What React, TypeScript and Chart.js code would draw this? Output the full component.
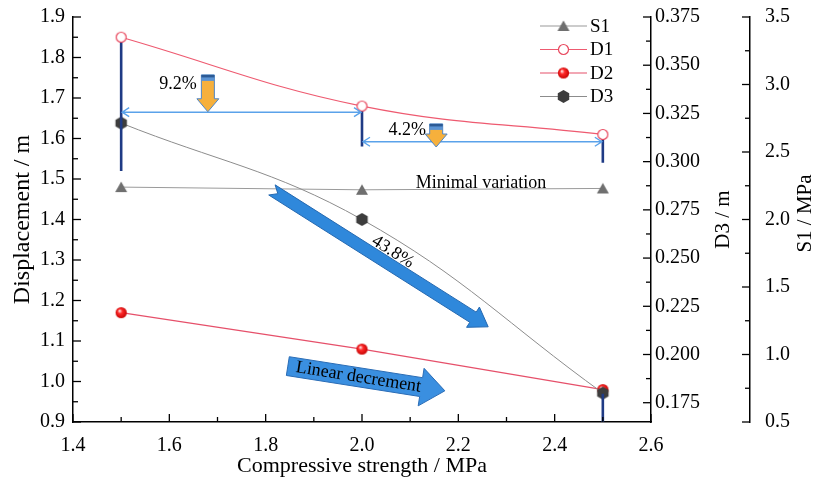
import React, { useEffect, useRef } from 'react';
import { Chart, registerables } from 'chart.js';
Chart.register(...registerables);

// ---- data ----
const STRENGTH = [1.5, 2.0, 2.5];
const S1 = [2.24, 2.22, 2.23];
const D1 = [1.85, 1.68, 1.61];
const D2 = [1.17, 1.08, 0.98];
const D3 = [0.32, 0.27, 0.18];

const X_TICKS = [1.4, 1.6, 1.8, 2.0, 2.2, 2.4, 2.6];
const Y_TICKS = [0.9, 1.0, 1.1, 1.2, 1.3, 1.4, 1.5, 1.6, 1.7, 1.8, 1.9];
const D3_TICKS = [0.175, 0.2, 0.225, 0.25, 0.275, 0.3, 0.325, 0.35, 0.375];
const S1_TICKS = [0.5, 1.0, 1.5, 2.0, 2.5, 3.0, 3.5];

// vertical bars (left axis units)
const BAR_X = [1.5, 2.0, 2.5, 2.5];
const BAR_HIGH = [1.85, 1.68, 1.61, 0.97];
const BAR_LOW = [1.52, 1.58, 1.54, 0.9];

// horizontal double arrows
const SPAN_FROM = [1.5, 2.0];
const SPAN_TO = [2.0, 2.5];
const SPAN_Y = [1.665, 1.592];

// drop arrows with percentages
const DROP_LABELS = ['9.2%', '4.2%'];
const DROP_X = [1.68, 2.154];
const DROP_TOP = [1.757, 1.636];
const DROP_TIP = [1.666, 1.579];
const DROP_LABEL_X = [1.657, 2.133];
const DROP_LABEL_Y = [1.735, 1.621];

const FONT = "'Liberation Serif', 'Times New Roman', serif";
Chart.defaults.font.family = FONT;

function makeCanvas(size: number) {
  const c = document.createElement('canvas');
  c.width = size;
  c.height = size;
  return c;
}

function makeMarkers() {
  const tri = makeCanvas(14);
  {
    const g = tri.getContext('2d')!;
    g.fillStyle = '#6f6f6f';
    g.beginPath();
    g.moveTo(7, 1.5);
    g.lineTo(13, 12);
    g.lineTo(1, 12);
    g.closePath();
    g.fill();
  }
  const open = makeCanvas(13);
  {
    const g = open.getContext('2d')!;
    g.fillStyle = '#fff';
    g.strokeStyle = '#e8485e';
    g.lineWidth = 1.2;
    g.beginPath();
    g.arc(6.5, 6.5, 5, 0, Math.PI * 2);
    g.fill();
    g.stroke();
  }
  const sphere = makeCanvas(13);
  {
    const g = sphere.getContext('2d')!;
    const gr = g.createRadialGradient(4.8, 4.6, 0.4, 6.5, 6.5, 6);
    gr.addColorStop(0, '#ffe0e0');
    gr.addColorStop(0.35, '#ff2a2a');
    gr.addColorStop(1, '#c20000');
    g.fillStyle = gr;
    g.beginPath();
    g.arc(6.5, 6.5, 5.6, 0, Math.PI * 2);
    g.fill();
  }
  const hex = makeCanvas(15);
  {
    const g = hex.getContext('2d')!;
    g.fillStyle = '#3d3d3d';
    g.beginPath();
    for (let k = 0; k < 6; k++) {
      const a = -Math.PI / 2 + (k * Math.PI) / 3;
      const px = 7.5 + 6.6 * Math.cos(a);
      const py = 7.5 + 6.6 * Math.sin(a);
      if (k === 0) g.moveTo(px, py);
      else g.lineTo(px, py);
    }
    g.closePath();
    g.fill();
  }
  return { tri, open, sphere, hex };
}

function blockArrow(
  ctx: CanvasRenderingContext2D,
  x0: number, y0: number, x1: number, y1: number,
  sh: number, hh: number, hl: number, notch: number,
  fill: string, stroke: string
) {
  const L = Math.hypot(x1 - x0, y1 - y0);
  const ux = (x1 - x0) / L, uy = (y1 - y0) / L;
  const nx = -uy, ny = ux;
  const bx = x1 - ux * hl, by = y1 - uy * hl;
  ctx.beginPath();
  ctx.moveTo(x0 + nx * sh, y0 + ny * sh);
  ctx.lineTo(bx + nx * sh, by + ny * sh);
  ctx.lineTo(bx + nx * hh, by + ny * hh);
  ctx.lineTo(x1, y1);
  ctx.lineTo(bx - nx * hh, by - ny * hh);
  ctx.lineTo(bx - nx * sh, by - ny * sh);
  ctx.lineTo(x0 - nx * sh, y0 - ny * sh);
  ctx.lineTo(x0 + ux * notch, y0 + uy * notch);
  ctx.closePath();
  ctx.fillStyle = fill;
  ctx.fill();
  ctx.strokeStyle = stroke;
  ctx.lineWidth = 1;
  ctx.stroke();
}

export default function App() {
  const ref = useRef<HTMLCanvasElement>(null);

  useEffect(() => {
    const canvas = ref.current!;
    const mk = makeMarkers();

    const barData: any[] = [];
    BAR_X.forEach((x, i) => {
      barData.push({ x, y: BAR_HIGH[i] });
      barData.push({ x, y: BAR_LOW[i] });
      barData.push({ x, y: null });
    });

    const legendItems = [
      { label: 'S1', color: '#9a9a9a', img: mk.tri },
      { label: 'D1', color: '#ee5a70', img: mk.open },
      { label: 'D2', color: '#e6506a', img: mk.sphere },
      { label: 'D3', color: '#8c8c8c', img: mk.hex },
    ];

    const minors = (arr: number[]) => arr.slice(1).map((v, i) => (v + arr[i]) / 2);

    const decor = {
      id: 'decor',
      afterDatasetsDraw(chart: any) {
        const ctx: CanvasRenderingContext2D = chart.ctx;
        const xs = chart.scales.x;
        const ys = chart.scales.y;
        const X = (v: number) => xs.getPixelForValue(v);
        const Y = (v: number) => ys.getPixelForValue(v);
        ctx.save();

        // horizontal double arrows
        ctx.strokeStyle = '#5aa2ea';
        ctx.lineWidth = 1.4;
        SPAN_Y.forEach((yv, i) => {
          const xa = X(SPAN_FROM[i]) + 1, xb = X(SPAN_TO[i]) - 1, py = Y(yv);
          ctx.beginPath();
          ctx.moveTo(xa, py);
          ctx.lineTo(xb, py);
          ctx.moveTo(xa + 7, py - 4.5);
          ctx.lineTo(xa, py);
          ctx.lineTo(xa + 7, py + 4.5);
          ctx.moveTo(xb - 7, py - 4.5);
          ctx.lineTo(xb, py);
          ctx.lineTo(xb - 7, py + 4.5);
          ctx.stroke();
        });

        // orange drop arrows
        DROP_X.forEach((xv, i) => {
          const cx = X(xv), top = Y(DROP_TOP[i]), tip = Y(DROP_TIP[i]);
          const bw = 6.5, hw = 11, hl = 13;
          const hb = tip - hl;
          ctx.beginPath();
          ctx.moveTo(cx - bw, top);
          ctx.lineTo(cx + bw, top);
          ctx.lineTo(cx + bw, hb);
          ctx.lineTo(cx + hw, hb);
          ctx.lineTo(cx, tip);
          ctx.lineTo(cx - hw, hb);
          ctx.lineTo(cx - bw, hb);
          ctx.closePath();
          ctx.fillStyle = '#f6b03c';
          ctx.fill();
          ctx.strokeStyle = '#4f86c6';
          ctx.lineWidth = 1;
          ctx.stroke();
          ctx.fillStyle = '#5b93d3';
          ctx.fillRect(cx - bw, top, bw * 2, 6);
          ctx.fillStyle = '#2c5a95';
          ctx.fillRect(cx - bw, top, bw * 2, 2.5);

          ctx.fillStyle = '#000';
          ctx.font = `18px ${FONT}`;
          ctx.textAlign = 'right';
          ctx.textBaseline = 'middle';
          ctx.fillText(DROP_LABELS[i], X(DROP_LABEL_X[i]), Y(DROP_LABEL_Y[i]));
        });

        // minimal variation label
        ctx.fillStyle = '#000';
        ctx.font = `18px ${FONT}`;
        ctx.textAlign = 'center';
        ctx.textBaseline = 'alphabetic';
        ctx.fillText('Minimal variation', X(2.247), Y(1.478));

        // big diagonal arrow
        const ax0 = X(1.813), ay0 = Y(1.473), ax1 = X(2.262), ay1 = Y(1.135);
        blockArrow(ctx, ax0, ay0, ax1, ay1, 6, 12, 18, 7, '#2f88db', '#2468b0');
        const ang = Math.atan2(ay1 - ay0, ax1 - ax0);
        ctx.save();
        ctx.translate(X(2.064), Y(1.32));
        ctx.rotate(ang);
        ctx.fillStyle = '#000';
        ctx.font = `18px ${FONT}`;
        ctx.textAlign = 'center';
        ctx.textBaseline = 'middle';
        ctx.fillText('43.8%', 0, 0);
        ctx.restore();

        // linear decrement arrow
        const lx0 = X(1.846), ly0 = Y(1.038), lx1 = X(2.172), ly1 = Y(0.977);
        blockArrow(ctx, lx0, ly0, lx1, ly1, 9.5, 19, 24, 0, '#3a8fe0', '#2a6cb5');
        const la = Math.atan2(ly1 - ly0, lx1 - lx0);
        ctx.save();
        ctx.translate(lx0 + (lx1 - lx0) * 0.45, ly0 + (ly1 - ly0) * 0.45);
        ctx.rotate(la);
        ctx.fillStyle = '#000';
        ctx.font = `18px ${FONT}`;
        ctx.textAlign = 'center';
        ctx.textBaseline = 'middle';
        ctx.fillText('Linear decrement', 0, 0);
        ctx.restore();

        ctx.restore();
      },
      afterDraw(chart: any) {
        const ctx: CanvasRenderingContext2D = chart.ctx;
        const { x: xs, y: ys, yD3, yS1 } = chart.scales;
        const area = chart.chartArea;
        ctx.save();
        ctx.strokeStyle = '#000';
        ctx.lineWidth = 1.3;
        const line = (a: number, b: number, c: number, d: number) => {
          ctx.beginPath();
          ctx.moveTo(a, b);
          ctx.lineTo(c, d);
          ctx.stroke();
        };
        // x ticks (inward, up)
        X_TICKS.forEach(v => { const p = xs.getPixelForValue(v); line(p, area.bottom, p, area.bottom - 8); });
        minors(X_TICKS).forEach(v => { const p = xs.getPixelForValue(v); line(p, area.bottom, p, area.bottom - 5); });
        // left y ticks (inward, right)
        Y_TICKS.forEach(v => { const p = ys.getPixelForValue(v); line(area.left, p, area.left + 8, p); });
        minors(Y_TICKS).forEach(v => { const p = ys.getPixelForValue(v); line(area.left, p, area.left + 5, p); });
        // D3 axis ticks (left)
        const dl = yD3.left;
        D3_TICKS.forEach(v => { const p = yD3.getPixelForValue(v); line(dl, p, dl - 8, p); });
        minors(D3_TICKS).forEach(v => { const p = yD3.getPixelForValue(v); line(dl, p, dl - 5, p); });
        // S1 axis ticks (left)
        const sl = yS1.left;
        S1_TICKS.forEach(v => { const p = yS1.getPixelForValue(v); line(sl, p, sl - 8, p); });
        minors(S1_TICKS).forEach(v => { const p = yS1.getPixelForValue(v); line(sl, p, sl - 5, p); });

        // right axis titles (reading bottom-to-top)
        ctx.fillStyle = '#000';
        ctx.font = `21px ${FONT}`;
        ctx.textAlign = 'center';
        ctx.textBaseline = 'middle';
        const midY = (area.top + area.bottom) / 2;
        ctx.save();
        ctx.translate(dl + 72, midY);
        ctx.rotate(-Math.PI / 2);
        ctx.fillText('D3 / m', 0, 0);
        ctx.restore();
        ctx.save();
        ctx.translate(sl + 55, midY - 6);
        ctx.rotate(-Math.PI / 2);
        ctx.fillText('S1 / MPa', 0, 0);
        ctx.restore();

        // legend
        const lx = area.right - 111;
        legendItems.forEach((it, i) => {
          const ly = area.top + 9 + i * 23.5;
          ctx.strokeStyle = it.color;
          ctx.lineWidth = 1.2;
          line(lx, ly, lx + 47, ly);
          ctx.drawImage(it.img, lx + 23.5 - it.img.width / 2, ly - it.img.height / 2);
          ctx.fillStyle = '#000';
          ctx.font = `19px ${FONT}`;
          ctx.textAlign = 'left';
          ctx.textBaseline = 'middle';
          ctx.fillText(it.label, lx + 50, ly + 1);
        });
        ctx.restore();
      },
    };

    const pts = (arr: number[]) => STRENGTH.map((x, i) => ({ x, y: arr[i] }));
    const tickFont = { family: FONT, size: 20 };
    const fitY = (w: number) => (s: any) => {
      s.width = w;
      s.paddingTop = 0;
      s.paddingBottom = 0;
    };

    const chart = new Chart(canvas, {
      type: 'line',
      data: {
        datasets: [
          {
            label: 'S1', data: pts(S1), yAxisID: 'yS1', borderColor: '#9a9a9a', borderWidth: 1,
            pointStyle: mk.tri as any, pointRadius: 6, tension: 0, order: 5,
          },
          {
            label: 'D1', data: pts(D1), yAxisID: 'y', borderColor: '#ee5a70', borderWidth: 1.2,
            pointStyle: mk.open as any, pointRadius: 6, tension: 0.4, order: 0,
          },
          {
            label: 'D2', data: pts(D2), yAxisID: 'y', borderColor: '#e6506a', borderWidth: 1.2,
            pointStyle: mk.sphere as any, pointRadius: 6, tension: 0, order: 4,
          },
          {
            label: 'D3', data: pts(D3), yAxisID: 'yD3', borderColor: '#8c8c8c', borderWidth: 1,
            pointStyle: mk.hex as any, pointRadius: 7, tension: 0.4, order: 3,
          },
          {
            label: 'bars', data: barData, yAxisID: 'y', borderColor: '#1f3b85', borderWidth: 2.6,
            pointRadius: 0, spanGaps: false, tension: 0, order: 2,
          } as any,
        ],
      },
      options: {
        animation: false,
        responsive: false,
        devicePixelRatio: 1,
        layout: { padding: { top: 17, left: 0, right: 0, bottom: 0 } },
        plugins: { legend: { display: false }, tooltip: { enabled: false } },
        scales: {
          x: {
            type: 'linear', min: 1.4, max: 2.6,
            afterBuildTicks: (s: any) => { s.ticks = X_TICKS.map(v => ({ value: v })); },
            afterFit: (s: any) => { s.height = 57; s.paddingLeft = 0; s.paddingRight = 0; },
            ticks: { font: tickFont, color: '#000', padding: 12, maxRotation: 0, callback: (v: any) => Number(v).toFixed(1) },
            grid: { display: false, drawTicks: false },
            border: { display: true, color: '#000', width: 1.5 },
            title: { display: true, text: 'Compressive strength / MPa', color: '#000', font: { family: FONT, size: 22 }, padding: { top: 0, bottom: 0 } },
          },
          y: {
            type: 'linear', position: 'left', min: 0.9, max: 1.9,
            afterBuildTicks: (s: any) => { s.ticks = Y_TICKS.map(v => ({ value: v })); },
            afterFit: fitY(73),
            ticks: { font: tickFont, color: '#000', padding: 8, callback: (v: any) => Number(v).toFixed(1) },
            grid: { display: false, drawTicks: false },
            border: { display: true, color: '#000', width: 1.5 },
            title: { display: true, text: 'Displacement / m', color: '#000', font: { family: FONT, size: 24 }, padding: { top: 8, bottom: 0 } },
          },
          yD3: {
            type: 'linear', position: 'right', min: 0.165, max: 0.375, weight: 0,
            afterBuildTicks: (s: any) => { s.ticks = D3_TICKS.map(v => ({ value: v })); },
            afterFit: fitY(99),
            ticks: { font: tickFont, color: '#000', padding: 4, callback: (v: any) => Number(v).toFixed(3) },
            grid: { display: false, drawTicks: false },
            border: { display: true, color: '#000', width: 1.5 },
          },
          yS1: {
            type: 'linear', position: 'right', min: 0.5, max: 3.5, weight: 1,
            afterBuildTicks: (s: any) => { s.ticks = S1_TICKS.map(v => ({ value: v })); },
            afterFit: fitY(66),
            ticks: { font: tickFont, color: '#000', padding: 15, callback: (v: any) => Number(v).toFixed(1) },
            grid: { display: false, drawTicks: false },
            border: { display: true, color: '#000', width: 1.5 },
          },
        },
      } as any,
      plugins: [decor],
    });
    return () => chart.destroy();
  }, []);

  return (
    <div style={{ position: 'fixed', left: 0, top: 0, width: 816, height: 479, background: '#fff' }}>
      <canvas ref={ref} width={816} height={479} style={{ display: 'block' }} />
    </div>
  );
}
